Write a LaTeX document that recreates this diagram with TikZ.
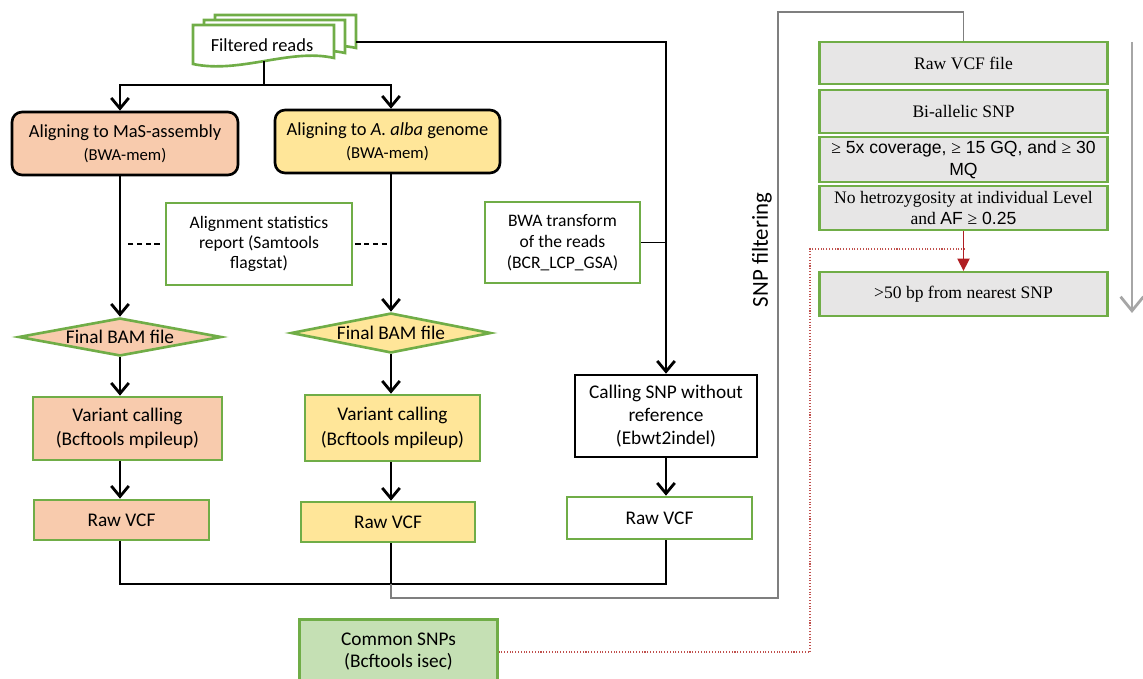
\documentclass[tikz,border=0pt]{standalone}
\usepackage{fontspec}
\setmainfont{Carlito}
\newfontfamily\timesf{Liberation Serif}
\newfontfamily\arialf{Liberation Sans}
\usetikzlibrary{arrows.meta,shapes.geometric}
\definecolor{salmon}{HTML}{F8CBAD}
\definecolor{butter}{HTML}{FFE699}
\definecolor{leafgreen}{HTML}{70AD47}
\definecolor{paleleaf}{HTML}{C5E0B4}
\definecolor{lightgrey}{HTML}{E7E6E6}
\definecolor{darkred}{HTML}{B01E23}
\definecolor{dotred}{HTML}{C0504D}
\definecolor{arrowgrey}{HTML}{A6A6A6}
\definecolor{wiregrey}{HTML}{7F7F7F}
\newcommand{\geqt}{{\timesf ≥}}

\tikzset{
  flow/.style={line width=1.6pt, -{Straight Barb[length=6pt,width=10pt]}},
  joinline/.style={line width=1.6pt},
  wire/.style={draw=wiregrey, line width=0.7pt},
  alignbox/.style={draw=black, line width=1.5pt, rounded corners=0.2cm,
    minimum height=1.26cm, align=center, font=\fontsize{10.5}{13}\selectfont},
  greenbox/.style={draw=leafgreen, line width=1.5pt, align=center,
    font=\fontsize{11}{14}\selectfont},
  bamfile/.style={diamond, draw=leafgreen, line width=1.5pt, aspect=5.3,
    inner sep=0pt, font=\fontsize{11}{13}\selectfont},
  filterbox/.style={draw=leafgreen, line width=1.3pt, fill=lightgrey,
    minimum width=5.76cm, align=center, inner sep=1pt,
    font=\timesf\fontsize{10}{12.5}\selectfont},
  docsheet/.style={draw=leafgreen, fill=white, line width=1.5pt},
  tick/.style={dash pattern=on 3pt off 2pt, line width=0.7pt},
}

\begin{document}
\begin{tikzpicture}[x=0.02cm, y=-0.02cm]
  \useasboundingbox (0,0) rectangle (1143,679);

  \coordinate (colA) at (120,0);
  \coordinate (colB) at (391,0);
  \coordinate (colC) at (666,0);

  \foreach \d/\e in {22/10,11/5,0/0} {
    \begin{scope}[shift={(\d,-\e)}]
      \draw[docsheet] (193,25) -- (334,25) -- (334,58)
        .. controls (290,48) and (240,74) .. (193,64) -- cycle;
    \end{scope}
  }
  \node[font=\fontsize{10.5}{13}\selectfont] (reads) at (262,45) {Filtered reads};
  \coordinate (readsS) at (264,61);
  \coordinate (readsE) at (356,42);
  \coordinate (split) at (264,85);

  \node[alignbox, fill=salmon, minimum width=4.52cm] (alnMaS) at (125,143.5)
    {Aligning to MaS-assembly\\{\fontsize{9.5}{11}\selectfont (BWA-mem)}};
  \node[alignbox, fill=butter, minimum width=4.5cm] (alnAlba) at (387.5,141.5)
    {Aligning to \textit{A. alba} genome\\{\fontsize{9.5}{11}\selectfont (BWA-mem)}};

  \node[greenbox, minimum width=3.72cm, minimum height=1.64cm,
    font=\fontsize{10}{11.5}\selectfont] (statsBox) at (259,244)
    {Alignment statistics\\report (Samtools\\flagstat)};
  \node[greenbox, minimum width=3.1cm, minimum height=1.62cm,
    font=\fontsize{10}{12}\selectfont] (bwaBox) at (562.5,242.5)
    {BWA transform\\of the reads\\(BCR\_LCP\_GSA)};

  \node[bamfile, fill=salmon, minimum width=4.06cm, minimum height=0.76cm] (finalMaS) at (120,337) {Final BAM file};
  \node[bamfile, fill=butter, minimum width=4.0cm, minimum height=0.8cm] (finalAlba) at (391,333) {Final BAM file};

  \node[greenbox, fill=salmon, minimum width=3.78cm, minimum height=1.26cm] (varMaS) at (127.5,428.5)
    {Variant calling\\(Bcftools mpileup)};
  \node[greenbox, fill=butter, minimum width=3.5cm, minimum height=1.32cm] (varAlba) at (392.5,428)
    {Variant calling\\(Bcftools mpileup)};
  \node[draw=black, line width=1.5pt, align=center, minimum width=3.64cm, minimum height=1.64cm,
    font=\fontsize{11}{13}\selectfont] (callSNP) at (666,416)
    {Calling SNP without\\reference\\(Ebwt2indel)};

  \node[greenbox, fill=salmon, minimum width=3.5cm, minimum height=0.8cm] (rawMaS) at (121.5,520) {Raw VCF};
  \node[greenbox, fill=butter, minimum width=3.48cm, minimum height=0.8cm] (rawAlba) at (388,522) {Raw VCF};
  \node[greenbox, fill=white, minimum width=3.7cm, minimum height=0.84cm] (rawNoref) at (659.5,518) {Raw VCF};

  \node[greenbox, fill=paleleaf, minimum width=3.96cm, minimum height=1.3cm,
    font=\fontsize{11}{12.5}\selectfont] (common) at (398.5,652)
    {Common SNPs\\(Bcftools isec)};

  \node[rotate=90, font=\fontsize{13}{15}\selectfont] (snpFilt) at (762,250) {SNP filtering};

  \node[filterbox, minimum height=0.84cm] (rawFile) at (963.5,63) {Raw VCF file};
  \node[filterbox, minimum height=0.86cm] (biAllelic) at (963.5,111.5) {Bi-allelic SNP};
  \node[filterbox, minimum height=0.9cm, font=\arialf\fontsize{10}{12.5}\selectfont] (coverage) at (963.5,159.5)
    {\geqt{} 5x coverage, \geqt{} 15 GQ, and \geqt{} 30\\MQ};
  \node[filterbox, minimum height=0.88cm] (noHet) at (963.5,208)
    {No hetrozygosity at individual Level\\and {\arialf AF \geqt{} 0.25}};
  \node[filterbox, minimum height=0.88cm] (farSNP) at (963.5,294) {>50 bp from nearest SNP};

  \coordinate (merge) at (391,584);
  \coordinate (wireTop) at (778,12);
  \coordinate (tap) at (965,249);
  \coordinate (dropR) at (810,652);
  \coordinate (filtTop) at (1132,42);
  \coordinate (filtBot) at (1132,313);

  \draw[joinline] (readsS) -- (split);
  \draw[flow] (split) -| (alnMaS.north -| colA);
  \draw[flow] (split) -| (alnAlba.north -| colB);
  \draw[flow] (readsE) -| (callSNP.north);

  \draw[flow] (alnMaS.south -| colA) -- (finalMaS.north);
  \draw[flow] (alnAlba.south -| colB) -- (finalAlba.north);
  \draw[flow] (finalMaS.south) -- (varMaS.north -| colA);
  \draw[flow] (finalAlba.south) -- (varAlba.north -| colB);
  \draw[flow] (varMaS.south -| colA) -- (rawMaS.north -| colA);
  \draw[flow] (varAlba.south -| colB) -- (rawAlba.north -| colB);
  \draw[flow] (callSNP.south) -- (rawNoref.north -| colC);

  \draw[tick] (statsBox.west) ++(-5,0) -- ++(-34,0);
  \draw[tick] (statsBox.east) ++(2,0) -- ++(33,0);
  \draw[line width=0.7pt] (bwaBox.east) -- (bwaBox.east -| colC);

  \draw[joinline] (rawMaS.south -| colA) -- (colA |- merge) -- (colC |- merge) -- (rawNoref.south -| colC);
  \draw[joinline] (rawAlba.south -| colB) -- (merge);
  \draw[wire] (merge) -- ++(0,14) -| (wireTop) -| (rawFile.north);

  \draw[darkred, line width=0.8pt, -{Triangle[length=7pt,width=7pt]}] (noHet.south) -- (farSNP.north);
  \draw[dotred, line width=0.6pt, densely dotted] (tap) -| (dropR) -- (common.east);
  \draw[arrowgrey, line width=1.6pt, -{Straight Barb[length=8pt,width=13pt]}] (filtTop) -- (filtBot);
\end{tikzpicture}
\end{document}
